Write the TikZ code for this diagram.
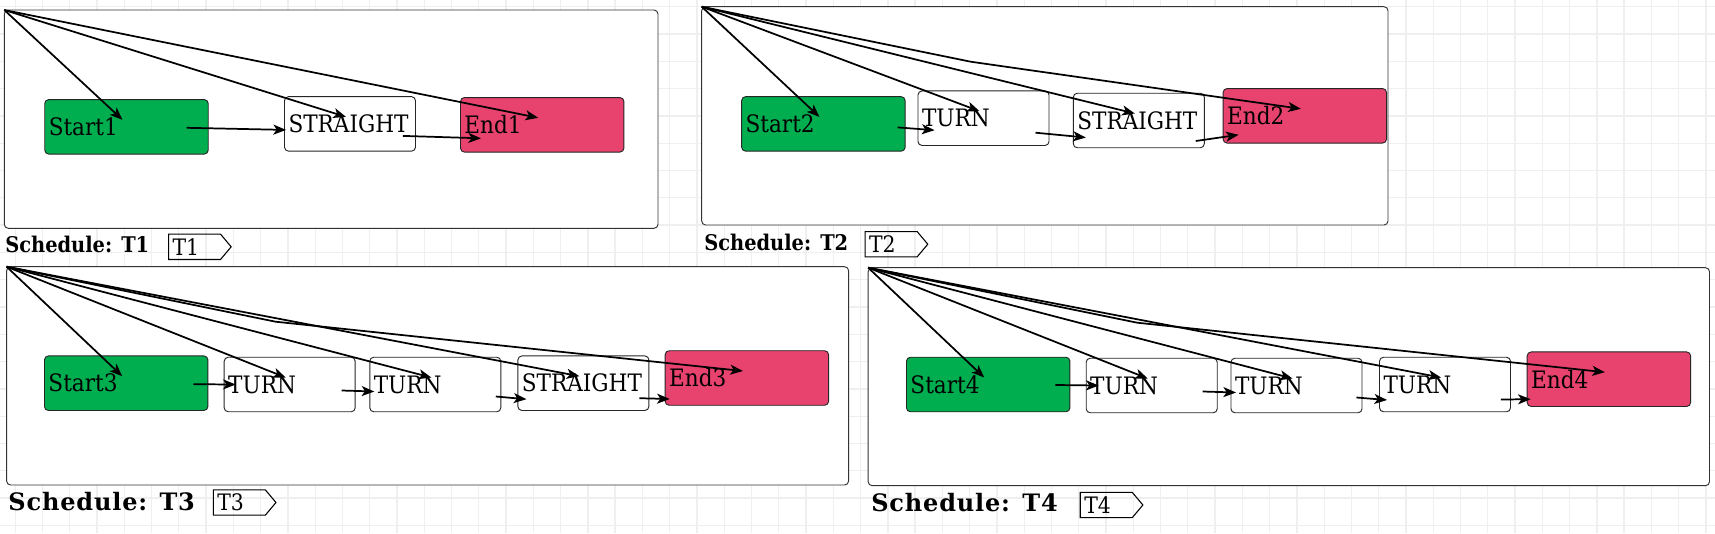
\documentclass[tikz,border=0pt]{standalone}
\usepackage{fontspec}
\setmainfont{DejaVu Serif Condensed}
\newfontfamily\widefont[LetterSpace=3.5]{DejaVu Serif}
\usetikzlibrary{arrows.meta}
\usetikzlibrary{shapes.symbols}

\definecolor{startgreen}{HTML}{00AE4F}
\definecolor{endpink}{HTML}{E8436F}
\definecolor{gridgray}{HTML}{EFEFEF}
\definecolor{framegray}{HTML}{333333}

\tikzset{
  gridline/.style={gridgray, line width=1pt},
  panel/.style={draw=framegray, fill=white, line width=0.7pt, rounded corners=3pt},
  task/.style={draw=black!85, line width=0.7pt, rounded corners=3pt, minimum height=40.9pt,
    inner xsep=3pt, inner ysep=0pt, align=left, text width=92.25pt, font=\fontsize{18}{20}\selectfont},
  bigbox/.style={task, text width=116.6pt},
  startbox/.style={bigbox, fill=startgreen},
  endbox/.style={bigbox, fill=endpink},
  stepbox/.style={task, fill=white},
  tag/.style={signal, signal to=east, signal pointer angle=100, draw, line width=0.8pt, anchor=west,
    minimum height=19pt, inner xsep=3pt, inner ysep=0pt, text width=33pt, align=left,
    font=\fontsize{17}{18}\selectfont},
  toplabel/.style={anchor=base west, inner sep=0pt, font=\bfseries\fontsize{16.2}{18}\selectfont},
  botlabel/.style={anchor=base west, inner sep=0pt, font=\widefont\bfseries\fontsize{18}{20}\selectfont},
  flow/.style={->, line width=1.3pt}
}

\begin{document}
\begin{tikzpicture}[x=0.75pt, y=-0.75pt, >={Stealth[length=9.5pt, width=7.5pt, inset=2.5pt]}]

\useasboundingbox (0,0) rectangle (1715,533);

% background grid
\foreach \i in {0,...,62} \draw[gridline] ({15.2+27.27*\i},0) -- ({15.2+27.27*\i},533);
\foreach \j in {0,...,19} \draw[gridline] (0,{6.7+27.3*\j}) -- (1715,{6.7+27.3*\j});

% frames
\draw[panel] (4.3,10) rectangle (658,228.3);
\draw[panel] (701.7,6.7) rectangle (1388,225);
\draw[panel] (6.6,266.7) rectangle (848.6,485);
\draw[panel] (868.2,267.7) rectangle (1709.5,485.7);
\coordinate (c1) at (4.3,10);
\coordinate (c2) at (701.7,6.7);
\coordinate (c3) at (6.6,266.7);
\coordinate (c4) at (868.2,267.7);

% schedule T1
\node[startbox] (s1) at (126.5,126.8) {Start1};
\node[stepbox] (st1) at (350,123.9) {STRAIGHT};
\node[endbox] (e1) at (542.2,124.8) {End1};
\node[toplabel] (l1) at (5,252.3) {Schedule: T1};
\node[tag] (t1) at (168,246.8) {T1};

% schedule T2
\node[startbox] (s2) at (823.4,123.9) {Start2};
\node[stepbox] (tu2) at (983.5,118.2) {TURN};
\node[stepbox] (st2) at (1138.8,120.5) {STRAIGHT};
\node[endbox] (e2) at (1304.8,115.8) {End2};
\node[toplabel] (l2) at (704,250) {Schedule: T2};
\node[tag] (t2) at (864.6,244.2) {T2};

% schedule T3
\node[startbox] (s3) at (126.2,383.2) {Start3};
\node[stepbox] (tu3a) at (289.7,384.5) {TURN};
\node[stepbox] (tu3b) at (435.3,384.5) {TURN};
\node[stepbox] (st3) at (583.4,383.2) {STRAIGHT};
\node[endbox] (e3) at (746.9,378) {End3};
\node[botlabel] (l3) at (8.2,510) {Schedule: T3};
\node[tag] (t3) at (212.8,502.5) {T3};

% schedule T4
\node[startbox] (s4) at (988.2,384.5) {Start4};
\node[stepbox] (tu4a) at (1151.7,385.5) {TURN};
\node[stepbox] (tu4b) at (1296.5,385.5) {TURN};
\node[stepbox] (tu4c) at (1445,384.5) {TURN};
\node[endbox] (e4) at (1608.9,379.2) {End4};
\node[botlabel] (l4) at (871,511.7) {Schedule: T4};
\node[tag] (t4) at (1079.7,505) {T4};

% links from the frame corner
\draw[flow] (c1) -- ([shift={(-4,-7)}]s1.center);
\draw[flow] (c1) -- ([shift={(-4,-7)}]st1.center);
\draw[flow] (c1) -- ([shift={(-4,-7)}]e1.center);
\draw[flow] (c2) -- ([shift={(-4,-7)}]s2.center);
\draw[flow] (c2) -- ([shift={(-4,-7)}]tu2.center);
\draw[flow] (c2) -- ([shift={(-4,-7)}]st2.center);
\draw[flow] (c2) -- ++(269,55) -- ([shift={(-4,-7)}]e2.center);
\draw[flow] (c3) -- ([shift={(-4,-7)}]s3.center);
\draw[flow] (c3) -- ([shift={(-4,-7)}]tu3a.center);
\draw[flow] (c3) -- ([shift={(-4,-7)}]tu3b.center);
\draw[flow] (c3) -- ([shift={(-4,-7)}]st3.center);
\draw[flow] (c3) -- ++(269,55) -- ([shift={(-4,-7)}]e3.center);
\draw[flow] (c4) -- ([shift={(-4,-7)}]s4.center);
\draw[flow] (c4) -- ([shift={(-4,-7)}]tu4a.center);
\draw[flow] (c4) -- ([shift={(-4,-7)}]tu4b.center);
\draw[flow] (c4) -- ([shift={(-4,-7)}]tu4c.center);
\draw[flow] (c4) -- ++(269,55) -- ([shift={(-4,-7)}]e4.center);

% links along each schedule
\draw[flow] ([shift={(-22,1)}]s1.east) -- ([shift={(2,6)}]st1.west);
\draw[flow] ([shift={(-13,12)}]st1.east) -- ([shift={(21,13.5)}]e1.west);
\draw[flow] ([shift={(-8,3.5)}]s2.east) -- ([shift={(17,12)}]tu2.west);
\draw[flow] ([shift={(-14,14.5)}]tu2.east) -- ([shift={(13,17)}]st2.west);
\draw[flow] ([shift={(-9,20.5)}]st2.east) -- ([shift={(16,19)}]e2.west);
\draw[flow] ([shift={(-15,1)}]s3.east) -- ([shift={(12,0)}]tu3a.west);
\draw[flow] ([shift={(-14,6)}]tu3a.east) -- ([shift={(5,7)}]tu3b.west);
\draw[flow] ([shift={(-5.5,12)}]tu3b.east) -- ([shift={(9,16)}]st3.west);
\draw[flow] ([shift={(-10,15)}]st3.east) -- ([shift={(5,21)}]e3.west);
\draw[flow] ([shift={(-15,0.5)}]s4.east) -- ([shift={(13,0)}]tu4a.west);
\draw[flow] ([shift={(-15,6)}]tu4a.east) -- ([shift={(5.5,7)}]tu4b.west);
\draw[flow] ([shift={(-6,12)}]tu4b.east) -- ([shift={(8,15.5)}]tu4c.west);
\draw[flow] ([shift={(-10,15)}]tu4c.east) -- ([shift={(4,20)}]e4.west);

\end{tikzpicture}
\end{document}
